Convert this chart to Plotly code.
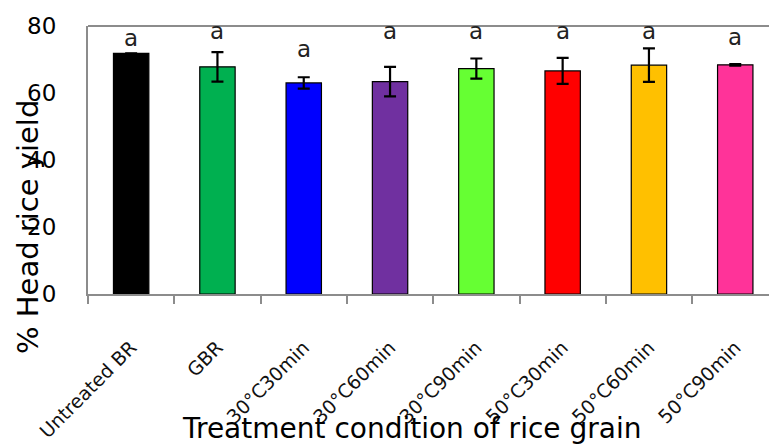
import plotly.graph_objects as go

categories = ["Untreated BR", "GBR", "30\u00b0C30min", "30\u00b0C60min", "30\u00b0C90min",
              "50\u00b0C30min", "50\u00b0C60min", "50\u00b0C90min"]
values = [71.8, 67.8, 63.0, 63.4, 67.3, 66.6, 68.3, 68.4]
errors = [0.0, 4.4, 1.7, 4.4, 3.0, 3.9, 5.0, 0.2]
colors = ["#000000", "#00B050", "#0000FF", "#7030A0", "#66FF33", "#FF0000", "#FFC000", "#FF3399"]
letters = ["a", "a", "a", "a", "a", "a", "a", "a"]
letter_y = [76.5, 78.5, 73.2, 78.5, 78.5, 78.5, 78.5, 76.8]
yticks = [0, 20, 40, 60, 80]

xs = list(range(len(categories)))

fig = go.Figure()
fig.add_trace(go.Bar(
    x=xs, y=values, width=0.41,
    marker=dict(color=colors, line=dict(color="#000000", width=1.2)),
    error_y=dict(type="data", array=errors, visible=True, color="#000000",
                 thickness=2.2, width=6),
    showlegend=False,
))

for xi, lab, ly in zip(xs, letters, letter_y):
    fig.add_annotation(x=xi, y=ly, text=lab, showarrow=False, xref="x", yref="y",
                       font=dict(family="DejaVu Sans", size=23, color="#222222"),
                       yanchor="middle")

ppc = 86.3
plot_w = 769 - 88
fig.update_layout(
    width=769, height=445,
    margin=dict(l=88, r=0, t=26, b=151),
    plot_bgcolor="white", paper_bgcolor="white",
    xaxis=dict(
        range=[-0.5, -0.5 + plot_w / ppc],
        tickvals=xs, ticktext=categories, tickangle=-45,
        ticks="", showline=True, linecolor="#8c8c8c", linewidth=2,
        showgrid=False, zeroline=False, automargin=False,
        tickfont=dict(family="DejaVu Sans", size=19, color="#111111"),
        ticklabelstandoff=33,
        minor=dict(tickvals=[i - 0.5 for i in range(len(categories) + 1)],
                   ticks="outside", ticklen=8, tickcolor="#8c8c8c", tickwidth=2),
    ),
    yaxis=dict(
        range=[0, 80], tickvals=yticks, ticks="", showline=True,
        linecolor="#8c8c8c", linewidth=2, showgrid=False, zeroline=False,
        automargin=False,
        tickfont=dict(family="DejaVu Sans", size=23, color="#000000"),
        ticklabelstandoff=25,
    ),
    shapes=[dict(type="line", xref="paper", yref="paper", x0=0, x1=1.02, y0=1, y1=1,
                 line=dict(color="#8c8c8c", width=2))],
)

fig.add_annotation(text="% Head rice yield", xref="paper", yref="paper",
                   x=(28 - 88) / plot_w, y=(294 - 227) / 268, textangle=-90,
                   showarrow=False, xanchor="center", yanchor="middle",
                   font=dict(family="DejaVu Sans", size=29, color="#000000"))
fig.add_annotation(text="Treatment condition of rice grain", xref="paper", yref="paper",
                   x=(411 - 88) / plot_w, y=(294 - 428) / 268,
                   showarrow=False, xanchor="center", yanchor="middle",
                   font=dict(family="DejaVu Sans", size=28, color="#000000"))

fig.write_html("out.html")
